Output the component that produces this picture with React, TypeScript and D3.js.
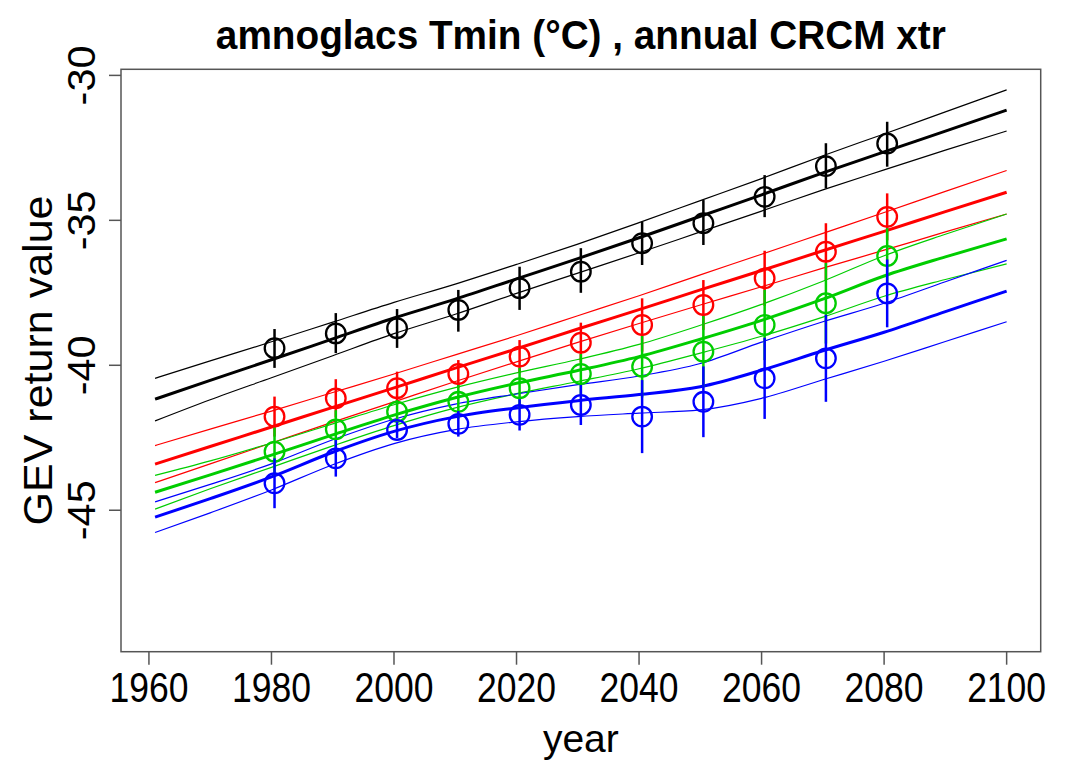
import React from "react";
import * as d3 from "d3";

// ---- data ----
const lineYears = [1961, 1970, 1980, 1990, 2000, 2010, 2020, 2030, 2040, 2050, 2060, 2070, 2080, 2090, 2100];

const blackCenter = [-41.17, -40.52, -39.81, -39.09, -38.37, -37.72, -37.02, -36.32, -35.6, -34.86, -34.12, -33.36, -32.64, -31.92, -31.2];
const blackUpper = [-40.45, -39.85, -39.19, -38.51, -37.83, -37.2, -36.52, -35.82, -35.08, -34.32, -33.56, -32.77, -32.02, -31.26, -30.5];
const blackLower = [-41.92, -41.19, -40.43, -39.67, -38.91, -38.24, -37.52, -36.82, -36.12, -35.4, -34.68, -33.95, -33.26, -32.58, -31.92];

const redCenter = [-43.41, -42.8, -42.13, -41.45, -40.78, -40.1, -39.43, -38.75, -38.08, -37.4, -36.73, -36.05, -35.38, -34.7, -34.03];
const redUpper = [-42.77, -42.2, -41.58, -40.94, -40.3, -39.64, -38.98, -38.29, -37.6, -36.88, -36.17, -35.45, -34.73, -34.0, -33.28];
const redLower = [-44.05, -43.4, -42.68, -41.96, -41.26, -40.56, -39.88, -39.21, -38.56, -37.92, -37.29, -36.65, -36.03, -35.4, -34.78];

const greenCenter = [-44.38, -43.78, -43.1, -42.4, -41.72, -41.12, -40.62, -40.18, -39.7, -39.1, -38.45, -37.72, -36.92, -36.26, -35.64];
const greenUpper = [-43.8, -43.3, -42.68, -42.02, -41.36, -40.77, -40.26, -39.8, -39.28, -38.62, -37.9, -37.1, -36.22, -35.48, -34.78];
const greenLower = [-44.96, -44.26, -43.52, -42.78, -42.08, -41.47, -40.98, -40.56, -40.12, -39.58, -39.0, -38.34, -37.62, -37.04, -36.5];

const blueCenter = [-45.24, -44.6, -43.85, -43.0, -42.28, -41.78, -41.47, -41.22, -41.01, -40.74, -40.17, -39.5, -38.86, -38.15, -37.44];
const blueUpper = [-44.71, -44.11, -43.4, -42.57, -41.86, -41.34, -40.99, -40.67, -40.37, -39.94, -39.2, -38.5, -37.86, -37.12, -36.38];
const blueLower = [-45.77, -45.09, -44.3, -43.43, -42.7, -42.22, -41.95, -41.77, -41.65, -41.54, -41.14, -40.5, -39.86, -39.18, -38.5];

const pointYears = [1980.5, 1990.5, 2000.5, 2010.5, 2020.5, 2030.5, 2040.5, 2050.5, 2060.5, 2070.5, 2080.5];

const blackPts = [-39.41, -38.9, -38.72, -38.09, -37.34, -36.77, -35.79, -35.1, -34.19, -33.13, -32.35];
const blackHi = [-38.75, -38.2, -38.06, -37.4, -36.6, -35.96, -35.05, -34.3, -33.44, -32.34, -31.6];
const blackLo = [-40.09, -39.58, -39.4, -38.84, -38.09, -37.5, -36.54, -35.85, -34.89, -33.9, -33.15];

const redPts = [-41.77, -41.14, -40.79, -40.3, -39.7, -39.22, -38.61, -37.92, -37.0, -36.08, -34.88];
const redHi = [-41.08, -40.48, -40.22, -39.82, -39.13, -38.53, -37.69, -37.06, -36.05, -35.1, -34.07];
const redLo = [-42.46, -41.8, -41.36, -40.78, -40.27, -39.91, -39.53, -38.78, -37.95, -37.06, -35.69];

const greenPts = [-42.98, -42.21, -41.6, -41.26, -40.79, -40.3, -40.05, -39.53, -38.61, -37.86, -36.23];
const greenHi = [-42.15, -41.55, -41.2, -40.68, -40.09, -39.61, -38.99, -38.3, -37.4, -36.47, -35.27];
const greenLo = [-43.81, -42.87, -42.0, -41.84, -41.49, -40.99, -41.11, -40.76, -39.82, -39.25, -37.19];

const bluePts = [-44.07, -43.21, -42.23, -42.02, -41.71, -41.37, -41.77, -41.26, -40.45, -39.76, -37.52];
const blueHi = [-43.21, -42.58, -41.95, -41.58, -41.17, -40.68, -40.51, -40.04, -39.05, -38.26, -36.35];
const blueLo = [-44.93, -43.84, -42.51, -42.46, -42.25, -42.06, -43.03, -42.48, -41.85, -41.26, -38.69];

const xTicks = [1960, 1980, 2000, 2020, 2040, 2060, 2080, 2100];
const yTicks = [-45, -40, -35, -30];

const titleText = "amnoglacs Tmin (°C) , annual CRCM xtr";
const xLabel = "year";
const yLabel = "GEV return value";

const series = [
  { color: "#000000", center: blackCenter, upper: blackUpper, lower: blackLower, pts: blackPts, hi: blackHi, lo: blackLo },
  { color: "#ff0000", center: redCenter, upper: redUpper, lower: redLower, pts: redPts, hi: redHi, lo: redLo },
  { color: "#00cd00", center: greenCenter, upper: greenUpper, lower: greenLower, pts: greenPts, hi: greenHi, lo: greenLo },
  { color: "#0000ff", center: blueCenter, upper: blueUpper, lower: blueLower, pts: bluePts, hi: blueHi, lo: blueLo },
];

const W = 1068;
const H = 763;
const plot = { left: 121, right: 1040.7, top: 69.3, bottom: 651.7 };

export default function App() {
  const x = d3.scaleLinear().domain([1955.44, 2105.56]).range([plot.left, plot.right]);
  const y = d3.scaleLinear().domain([-49.88, -29.79]).range([plot.bottom, plot.top]);
  const line = d3
    .line<[number, number]>()
    .x((d) => x(d[0]))
    .y((d) => y(d[1]))
    .curve(d3.curveMonotoneX);
  const mk = (vals: number[]) => line(lineYears.map((yr, i) => [yr, vals[i]] as [number, number])) || "";
  const font = "'Liberation Sans', Arial, Helvetica, sans-serif";
  const narrow = "'Liberation Sans Narrow', 'Liberation Sans', Arial, sans-serif";

  return (
    <svg
      width={W}
      height={H}
      style={{ position: "absolute", left: 0, top: 0, background: "#fff" }}
      fontFamily={font}
    >
      <rect x={0} y={0} width={W} height={H} fill="#fff" />
      {/* title */}
      <text
        x={(plot.left + plot.right) / 2}
        y={49}
        textAnchor="middle"
        fontWeight="bold"
        fontSize={40}
        fontFamily={narrow}
        textLength={730}
        lengthAdjust="spacingAndGlyphs"
      >
        {titleText}
      </text>

      {/* lines */}
      {series.map((s, k) => (
        <g key={"l" + k} fill="none" stroke={s.color}>
          <path d={mk(s.upper)} strokeWidth={1.2} />
          <path d={mk(s.lower)} strokeWidth={1.2} />
          <path d={mk(s.center)} strokeWidth={3} />
        </g>
      ))}

      {/* points and error bars */}
      {series.map((s, k) => (
        <g key={"p" + k} stroke={s.color} fill="none">
          {pointYears.map((yr, i) => (
            <g key={i}>
              <line x1={x(yr)} x2={x(yr)} y1={y(s.hi[i])} y2={y(s.lo[i])} strokeWidth={2.5} />
              <circle cx={x(yr)} cy={y(s.pts[i])} r={9.8} strokeWidth={2.3} />
            </g>
          ))}
        </g>
      ))}

      {/* box */}
      <rect
        x={plot.left}
        y={plot.top}
        width={plot.right - plot.left}
        height={plot.bottom - plot.top}
        fill="none"
        stroke="#555"
        strokeWidth={1.5}
      />

      {/* x axis */}
      {xTicks.map((t) => (
        <g key={"x" + t}>
          <line x1={x(t)} x2={x(t)} y1={plot.bottom} y2={plot.bottom + 13} stroke="#555" strokeWidth={1.5} />
          <text
            x={x(t)}
            y={701.5}
            textAnchor="middle"
            fontSize={43}
            fontFamily={narrow}
            textLength={79}
            lengthAdjust="spacingAndGlyphs"
          >
            {t}
          </text>
        </g>
      ))}

      {/* y axis */}
      {yTicks.map((t) => (
        <g key={"y" + t}>
          <line x1={plot.left - 12} x2={plot.left} y1={y(t)} y2={y(t)} stroke="#555" strokeWidth={1.5} />
          <text
            transform={`translate(94.5,${y(t)}) rotate(-90)`}
            textAnchor="middle"
            fontSize={39}
            textLength={60}
            lengthAdjust="spacingAndGlyphs"
          >
            {String(t)}
          </text>
        </g>
      ))}

      <text x={(plot.left + plot.right) / 2} y={752} textAnchor="middle" fontSize={39}>
        {xLabel}
      </text>
      <text
        transform={`translate(52,${(plot.top + plot.bottom) / 2}) rotate(-90)`}
        textAnchor="middle"
        fontSize={41}
        textLength={330}
        lengthAdjust="spacingAndGlyphs"
      >
        {yLabel}
      </text>
    </svg>
  );
}
